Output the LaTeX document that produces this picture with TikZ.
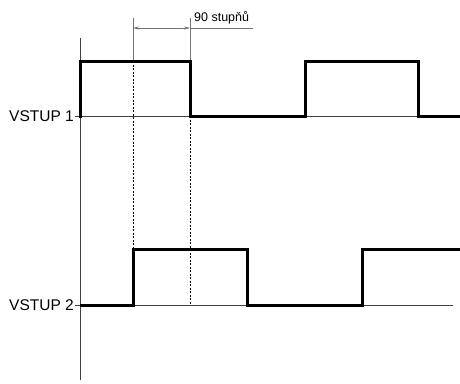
\documentclass[tikz,border=0pt]{standalone}
\usepackage{fontspec}
\setmainfont{Liberation Sans}
\usetikzlibrary{arrows.meta}
\begin{document}
\begin{tikzpicture}[x=1pt,y=-1pt,
  sig/.style={line width=3pt,line cap=butt,line join=miter},
  thin/.style={line width=0.8pt,black!75},
  guide/.style={line width=0.7pt,dashed,dash pattern=on 2pt off 1.5pt},
  dim/.style={line width=0.7pt,black!55},
  lab/.style={font=\fontsize{15.5}{17}\selectfont,anchor=east,inner sep=1pt}]
\useasboundingbox (0,0) rectangle (460,383);
% axis and baselines
\coordinate (axT) at (80,38);
\coordinate (axB) at (80,380);
\draw[thin] (axT) -- (axB);
\node[lab] (v1) at (75,116) {VSTUP 1};
\node[lab] (v2) at (75,305) {VSTUP 2};
\coordinate (b1e) at (460,116);
\coordinate (b2e) at (453,305);
\draw[thin] (v1.east) -- (b1e);
\draw[thin] (v2.east) -- (b2e);
% guides
\coordinate (g1t) at (133,18);
\coordinate (g1m) at (133,61);
\coordinate (g1b) at (133,249);
\coordinate (g2t) at (190,18);
\coordinate (g2m) at (190,116);
\coordinate (g2b) at (190,305);
\draw[dim] (g1t) -- (g1m);
\draw[guide] (g1m) -- (g1b);
\draw[dim] (g2t) -- (190,61);
\draw[guide] (g2m) -- (g2b);
% dimension
\coordinate (d1) at (133,28);
\coordinate (d2) at (190,28);
\coordinate (d3) at (253,28);
\draw[dim,{Stealth[length=6pt,width=3pt]}-{Stealth[length=6pt,width=3pt]}] (d1) -- (d2);
\draw[dim] (d2) -- (d3);
\node[font=\fontsize{12.5}{14}\selectfont,anchor=base west,inner sep=0pt] (deg) at (194,21) {90 stupňů};
% signal 1
\draw[sig] (80,117.5) -- (80,61) -- (190,61) -- (190,116) -- (305,116) -- (305,61) -- (418,61) -- (418,116) -- (460,116);
% signal 2
\draw[sig] (80,305) -- (133,305) -- (133,249) -- (247,249) -- (247,305) -- (362,305) -- (362,249) -- (460,249);
\end{tikzpicture}
\end{document}
